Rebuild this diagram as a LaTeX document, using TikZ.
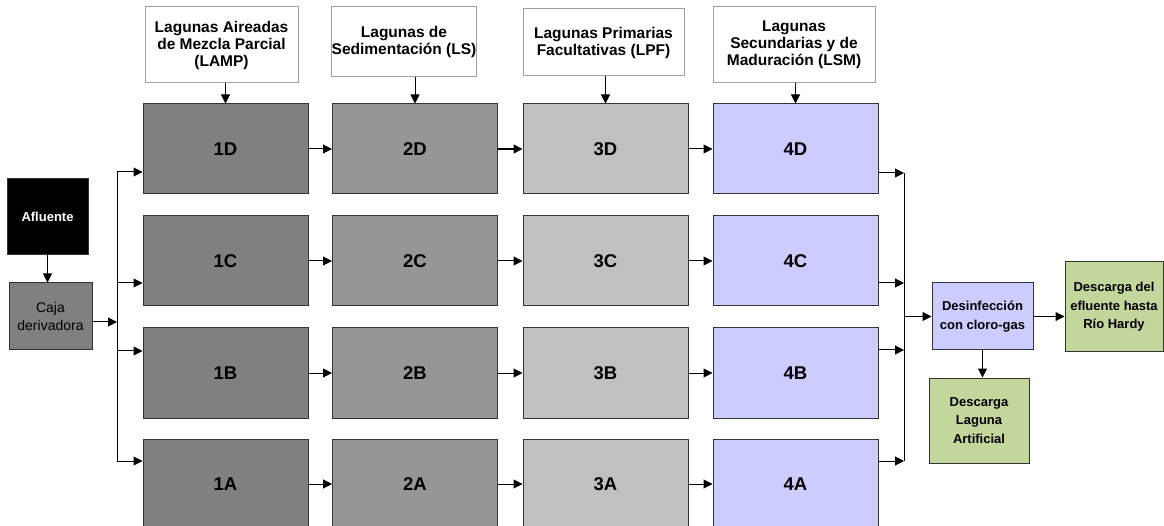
\documentclass[tikz,border=0pt]{standalone}
\usepackage{fontspec}
\setmainfont{Liberation Sans}
\usetikzlibrary{arrows.meta}
\definecolor{boxline}{HTML}{333333}
\definecolor{lblline}{HTML}{A0A0A0}
\definecolor{colA}{HTML}{808080}
\definecolor{colB}{HTML}{969696}
\definecolor{colC}{HTML}{C0C0C0}
\definecolor{colD}{HTML}{CCCCFF}
\definecolor{outgreen}{HTML}{C3D69B}
\begin{document}
\begin{tikzpicture}[x=1pt,y=-1pt,
  pond/.style={draw=boxline,line width=1pt,minimum width=165pt,minimum height=90pt,
    inner sep=0pt,font=\fontsize{18.5}{20}\selectfont\bfseries},
  lbl/.style={draw=lblline,fill=white,line width=1pt,inner sep=0pt,align=center,
    font=\fontsize{15.5}{17}\selectfont\bfseries},
  sbox/.style={draw=boxline,line width=1pt,inner sep=0pt,align=center,
    font=\fontsize{13}{18.5}\selectfont\bfseries},
  conn/.style={line width=1pt,-{Triangle[length=9pt,width=9pt]}},
  bus/.style={line width=1pt}]
\useasboundingbox (0,0) rectangle (1164,526);

% header labels
\node[lbl,minimum width=153pt,minimum height=76pt] (L1) at (221.5,45) {Lagunas Aireadas\\de Mezcla Parcial\\(LAMP)};
\node[lbl,minimum width=142pt,minimum height=70pt] (L2) at (404,42) {Lagunas de\\Sedimentación (LS)};
\node[lbl,minimum width=161pt,minimum height=67pt] (L3) at (603.5,42.5) {Lagunas Primarias\\Facultativas (LPF)};
\node[lbl,minimum width=162pt,minimum height=76pt] (L4) at (794,45) {Lagunas\\Secundarias y de\\Maduración (LSM)};

% pond grid
\foreach \r/\y in {D/149,C/261,B/373,A/484}{
  \node[pond,fill=colA] (b1\r) at (225.5,\y) {1\r};
  \node[pond,fill=colB] (b2\r) at (415,\y) {2\r};
  \node[pond,fill=colC] (b3\r) at (605.5,\y) {3\r};
  \node[pond,fill=colD] (b4\r) at (795.5,\y) {4\r};
}

% inflow side
\node[sbox,fill=black,text=white,minimum width=81pt,minimum height=76pt] (af) at (47.5,217) {Afluente};
\node[sbox,fill=colA,minimum width=83pt,minimum height=67pt,font=\fontsize{14}{18.5}\selectfont] (caja) at (50.5,316.5) {Caja\\derivadora};

% outflow side
\node[sbox,fill=colD,minimum width=101pt,minimum height=67pt] (des) at (982.5,316.5) {Desinfección\\con cloro-gas};
\node[sbox,fill=outgreen,minimum width=98pt,minimum height=90pt] (efl) at (1114,307) {Descarga del\\efluente hasta\\Río Hardy};
\node[sbox,fill=outgreen,minimum width=100pt,minimum height=85pt] (lag) at (979,420.5) {Descarga\\Laguna\\Artificial};

% header arrows
\foreach \k in {1,2,3,4}{
  \draw[conn] (L\k.south -| b\k D.north) -- (b\k D.north);
}

% flow along each row
\foreach \r in {D,C,B,A}{
  \draw[conn] (b1\r.east) -- (b2\r.west);
  \draw[conn] (b3\r.east) -- (b4\r.west);
}
\draw[conn] (b2C.east) -- (b3C.west);
\draw[conn] (b2B.east) -- (b3B.west);
\draw[conn] (b2A.east) -- (b3A.west);
\draw[conn,line width=1.7pt] (b2D.east) -- (b3D.west);

% distribution bus
\coordinate (iD) at (117,172);
\coordinate (iC) at (117,283);
\coordinate (iB) at (117,351);
\coordinate (iA) at (117,461);
\coordinate (iM) at (117,322);
\draw[conn] (af.south) -- (af.south |- caja.north);
\draw[bus] (iD) -- (iA);
\draw[conn] (caja.east |- iM) -- (iM);
\foreach \r in {D,C,B,A}{
  \draw[conn] (i\r) -- (i\r -| b1\r.west);
}

% collection bus
\coordinate (oD) at (904,173);
\coordinate (oC) at (904,283);
\coordinate (oB) at (904,350);
\coordinate (oA) at (904,461);
\coordinate (oM) at (904,316.5);
\draw[bus] (oD) -- (oA);
\foreach \r in {D,C,B,A}{
  \draw[conn] (o\r -| b4\r.east) -- (o\r);
}
\draw[conn] (oM) -- (des.west);
\draw[conn] (des.east) -- (des.east -| efl.west);
\draw[conn] (des.south) -- (des.south |- lag.north);
\end{tikzpicture}
\end{document}
